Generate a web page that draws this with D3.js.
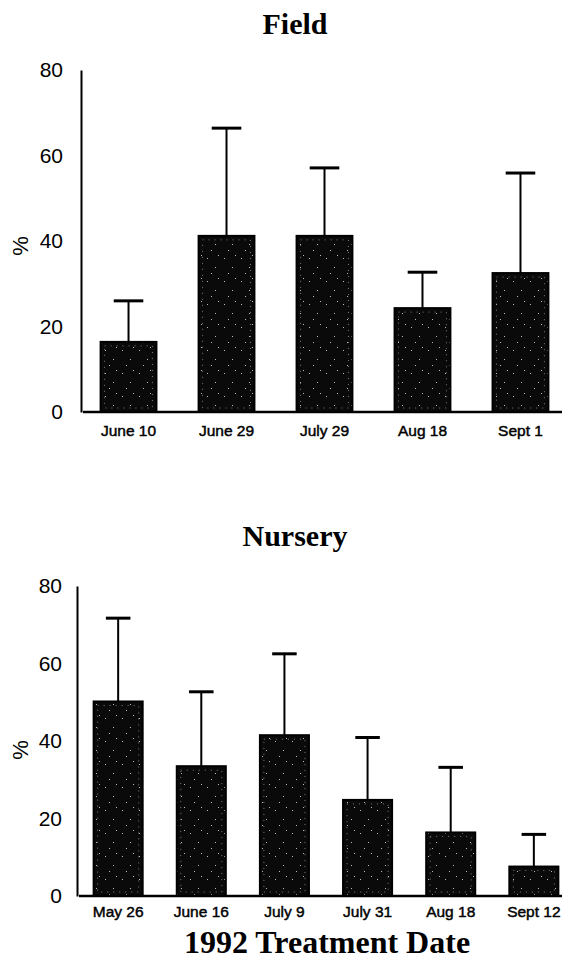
<!DOCTYPE html>
<html>
<head>
<meta charset="utf-8">
<script src="https://cdn.jsdelivr.net/npm/d3@7"></script>
<style>
  html, body { margin: 0; padding: 0; background: #fff; }
  svg { display: block; }
</style>
</head>
<body>
<svg id="chart" width="562" height="962"></svg>
<script>
// Field treatments
const fieldDates = ["June 10", "June 29", "July 29", "Aug 18", "Sept 1"];
const fieldMeans = [16.4, 41.2, 41.2, 24.3, 32.5];
const fieldErrors = [9.6, 25.2, 15.9, 8.4, 23.4];

// Nursery treatments
const nurseryDates = ["May 26", "June 16", "July 9", "July 31", "Aug 18", "Sept 12"];
const nurseryMeans = [50.2, 33.5, 41.5, 24.8, 16.4, 7.6];
const nurseryErrors = [21.5, 19.2, 21.0, 16.1, 16.8, 8.3];

const yTicks = [0, 20, 40, 60, 80];

const svg = d3.select("#chart");
const W = 562;

// speckled fill for the bars
const defs = svg.append("defs");
const pat = defs.append("pattern")
  .attr("id", "speckle").attr("patternUnits", "userSpaceOnUse")
  .attr("width", 17).attr("height", 23);
pat.append("rect").attr("width", 17).attr("height", 23).attr("fill", "#0a0a0a");
[[3, 5], [11, 14], [7, 20], [14, 2]].forEach(([x, y]) =>
  pat.append("rect").attr("x", x).attr("y", y).attr("width", 1).attr("height", 1)
    .attr("fill", "#bbb"));

function panel(cfg) {
  const { title, titleY, dates, means, errors, xRange, padInner, y0, y80,
          labelDy, tickPad, pctY, capFrac } = cfg;

  const x = d3.scaleBand().domain(dates).range(xRange)
    .paddingInner(padInner).paddingOuter(0.2);
  const y = d3.scaleLinear().domain([0, 80]).range([y0, y80]);
  const axisX = xRange[0];

  const g = svg.append("g");

  g.append("text")
    .attr("x", 295).attr("y", titleY)
    .attr("text-anchor", "middle")
    .attr("font-family", "'Liberation Serif', 'Times New Roman', serif")
    .attr("font-weight", "bold").attr("font-size", 30)
    .text(title);

  // y axis
  const yAxis = g.append("g")
    .attr("transform", `translate(${axisX},0)`)
    .call(d3.axisLeft(y).tickValues(yTicks).tickSize(0).tickPadding(tickPad)
      .tickFormat(d3.format("d")));
  yAxis.select(".domain").attr("stroke", "#000").attr("stroke-width", 2);
  yAxis.selectAll("text")
    .attr("font-family", "'Liberation Sans', Arial, sans-serif")
    .attr("font-size", 21).attr("fill", "#000");

  g.append("text")
    .attr("transform", `translate(28,${pctY}) rotate(-90)`)
    .attr("text-anchor", "middle")
    .attr("font-family", "'Liberation Sans', Arial, sans-serif")
    .attr("font-size", 22)
    .text("%");

  // bars
  const bw = x.bandwidth();
  const bars = g.append("g").selectAll("g").data(dates).join("g");
  bars.append("rect")
    .attr("x", d => x(d)).attr("width", bw)
    .attr("y", (d, i) => y(means[i]))
    .attr("height", (d, i) => y(0) - y(means[i]))
    .attr("fill", "url(#speckle)")
    .attr("stroke", "#000").attr("stroke-width", 2);
  bars.append("rect")
    .attr("x", d => x(d) + 4).attr("width", bw - 8)
    .attr("y", (d, i) => y(means[i]) + 4)
    .attr("height", (d, i) => Math.max(0, y(0) - y(means[i]) - 8))
    .attr("fill", "none")
    .attr("stroke", "#9a9a9a").attr("stroke-width", 0.8)
    .attr("stroke-dasharray", "1 5");

  // error bars (upper only)
  const cap = bw * capFrac;
  bars.append("line")
    .attr("x1", d => x(d) + bw / 2).attr("x2", d => x(d) + bw / 2)
    .attr("y1", (d, i) => y(means[i]))
    .attr("y2", (d, i) => y(means[i] + errors[i]))
    .attr("stroke", "#000").attr("stroke-width", 2);
  bars.append("line")
    .attr("x1", d => x(d) + bw / 2 - cap / 2).attr("x2", d => x(d) + bw / 2 + cap / 2)
    .attr("y1", (d, i) => y(means[i] + errors[i]))
    .attr("y2", (d, i) => y(means[i] + errors[i]))
    .attr("stroke", "#000").attr("stroke-width", 3);

  // x axis baseline and date labels
  const xAxis = g.append("g")
    .attr("transform", `translate(0,${y0})`)
    .call(d3.axisBottom(x).tickSize(0).tickPadding(labelDy));
  xAxis.select(".domain").remove();
  g.append("line")
    .attr("x1", axisX + 2).attr("x2", W)
    .attr("y1", y0).attr("y2", y0)
    .attr("stroke", "#000").attr("stroke-width", 2.5);
  xAxis.selectAll("text")
    .attr("font-family", "'Liberation Sans', Arial, sans-serif")
    .attr("font-size", 15.5).attr("fill", "#000")
    .attr("stroke", "#000").attr("stroke-width", 0.45);
}

panel({
  title: "Field", titleY: 34,
  dates: fieldDates, means: fieldMeans, errors: fieldErrors,
  xRange: [81, 568], padInner: 0.43,
  y0: 412, y80: 70, labelDy: 13, tickPad: 18, pctY: 246, capFrac: 0.53
});

panel({
  title: "Nursery", titleY: 546,
  dates: nurseryDates, means: nurseryMeans, errors: nurseryErrors,
  xRange: [77, 575], padInner: 0.41,
  y0: 896, y80: 586, labelDy: 10, tickPad: 15, pctY: 750, capFrac: 0.5
});

svg.append("text")
  .attr("x", 327).attr("y", 953)
  .attr("text-anchor", "middle")
  .attr("font-family", "'Liberation Serif', 'Times New Roman', serif")
  .attr("font-weight", "bold").attr("font-size", 32)
  .text("1992 Treatment Date");
</script>
</body>
</html>
